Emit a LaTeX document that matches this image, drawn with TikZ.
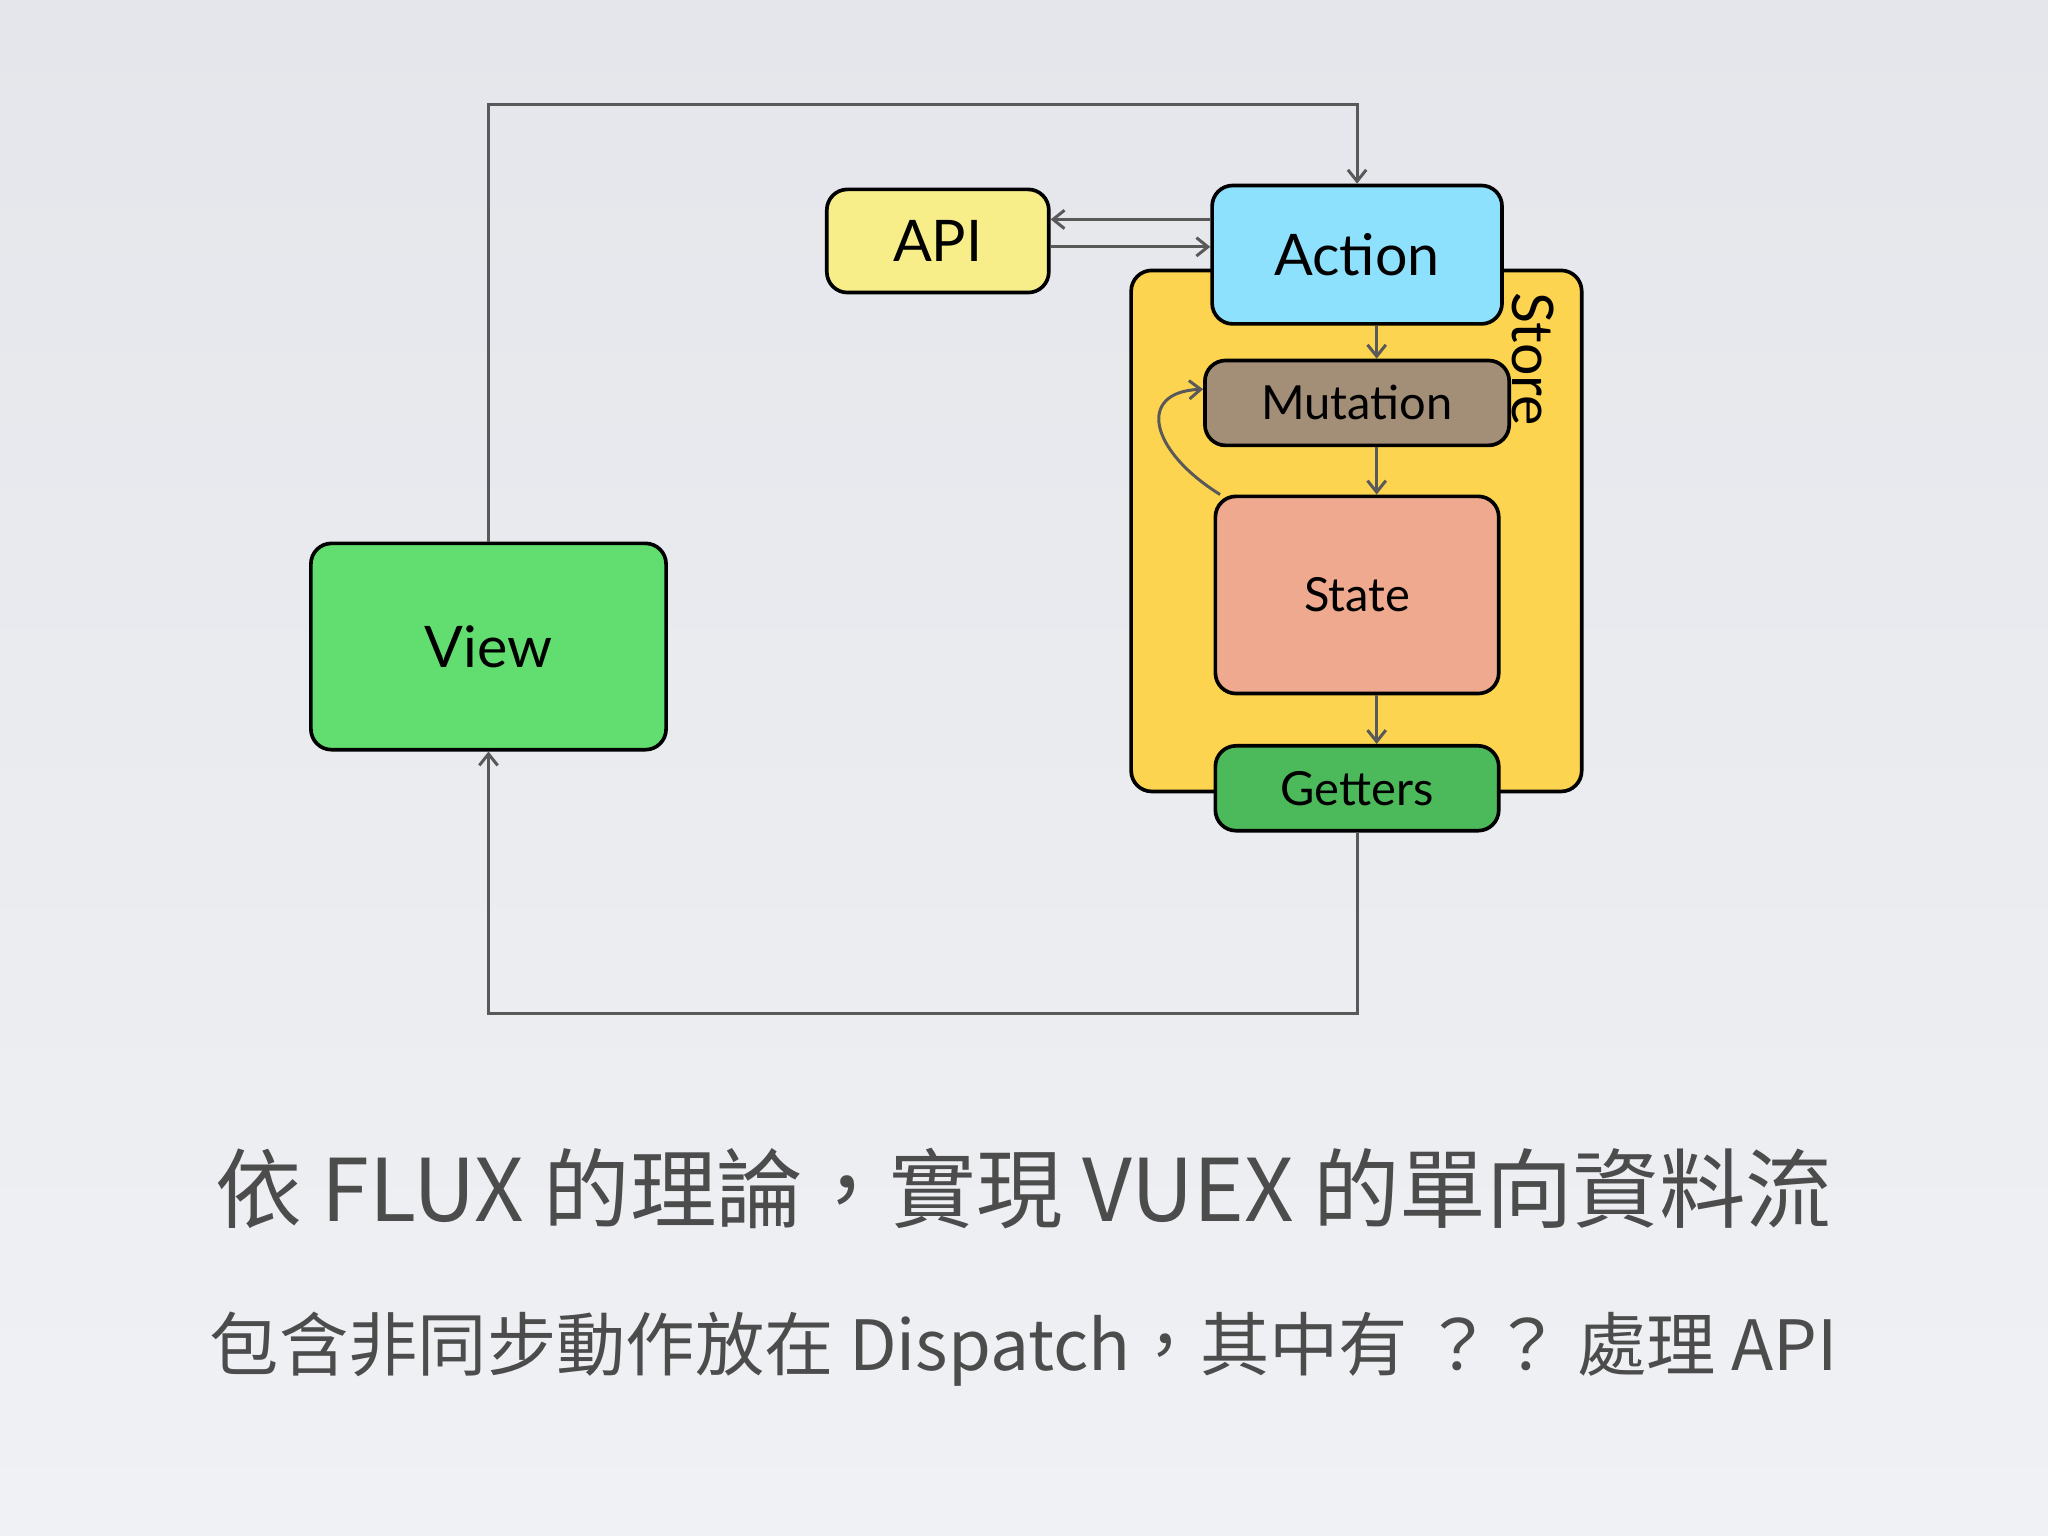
\documentclass[tikz,border=0pt]{standalone}
\usetikzlibrary{arrows.meta}
\usepackage{fontspec}
\setmainfont{Lato}
\newfontfamily\cjk{Noto Sans CJK TC}[Scale=1]
\begin{document}
\begin{tikzpicture}[x=0.02cm,y=-0.02cm,
  box/.style={draw=black,line width=1.6pt,rounded corners=9pt,inner sep=0pt},
  ln/.style={draw=black!65,line width=1.3pt},
  ar/.style={ln,-{Straight Barb[length=5pt,width=8pt]}}]
\shade[top color={rgb,255:red,228;green,230;blue,235},bottom color={rgb,255:red,240;green,241;blue,244}] (0,0) rectangle (1568,1176);
\useasboundingbox (0,0) rectangle (1568,1176);
\definecolor{api}{HTML}{F7EE8A}\definecolor{act}{HTML}{8EE1FC}
\definecolor{sto}{HTML}{FDD44F}\definecolor{mut}{HTML}{A38F77}
\definecolor{sta}{HTML}{EEA98E}\definecolor{get}{HTML}{4CB95A}
\definecolor{vie}{HTML}{62DE71}
\node[box,fill=sto,minimum width=6.9cm,minimum height=7.98cm] (store) at (1038.5,406.5) {};
\node[rotate=-90,font=\fontsize{25}{28}\selectfont] (sl) at (1174,275) {Store};
\node[box,fill=vie,minimum width=5.44cm,minimum height=3.16cm,font=\fontsize{25}{30}\selectfont] (view) at (374,495) {View};
\node[box,fill=api,minimum width=3.4cm,minimum height=1.58cm,font=\fontsize{25}{30}\selectfont] (api) at (718,184.5) {API};
\node[box,fill=act,minimum width=4.44cm,minimum height=2.12cm,font=\fontsize{25}{30}\selectfont] (act) at (1039,195) {Action};
\node[box,fill=mut,minimum width=4.66cm,minimum height=1.3cm,font=\fontsize{20.5}{24}\selectfont] (mut) at (1039,308.5) {Mutation};
\node[box,fill=sta,minimum width=4.34cm,minimum height=3.02cm,font=\fontsize{20.5}{24}\selectfont] (sta) at (1039,455.5) {State};
\node[box,fill=get,minimum width=4.34cm,minimum height=1.3cm,font=\fontsize{20.5}{24}\selectfont] (get) at (1039,603.5) {Getters};
\coordinate (t1) at (374,80);\coordinate (t2) at (1039,80);
\draw[ar] (view.north) -- (t1) -- (t2) -- (act.north);
\coordinate (b1) at (1039,776);\coordinate (b2) at (374,776);
\draw[ar] (get.south) -- (b1) -- (b2) -- (view.south);
\draw[ar] (act.west |- 0,168) -- (api.east |- 0,168);
\draw[ar] (api.east |- 0,189) -- (act.west |- 0,189);
\draw[ar] (act.south -| 1054,0) -- (mut.north -| 1054,0);
\draw[ar] (mut.south -| 1054,0) -- (sta.north -| 1054,0);
\draw[ar] (sta.south -| 1054,0) -- (get.north -| 1054,0);
\draw[ar] (sta.north west)+(5,0) .. controls (880,345) and (870,300) .. (mut.west |- 0,298);
\node[font=\cjk\fontsize{37.7}{42}\selectfont,text=black!70] (c1) at (784,910) {依 FLUX 的理論，實現 VUEX 的單向資料流};
\node[font=\cjk\fontsize{30.2}{34}\selectfont,text=black!70] (c2) at (784,1033) {包含非同步動作放在 Dispatch，其中有 ？？ 處理 API};
\end{tikzpicture}
\end{document}
